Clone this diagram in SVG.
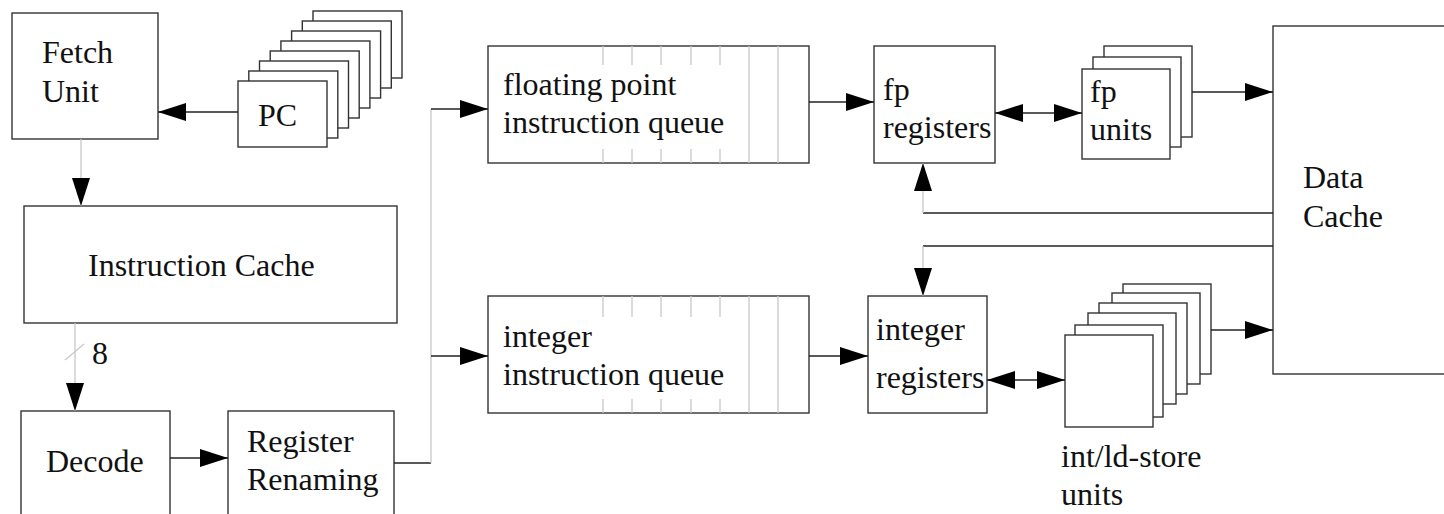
<svg xmlns="http://www.w3.org/2000/svg" width="1444" height="514" viewBox="0 0 1444 514">
<defs>
<marker id="ah" markerUnits="userSpaceOnUse" markerWidth="28" markerHeight="18" refX="28" refY="9" orient="auto-start-reverse" viewBox="0 0 28 18">
<path d="M0,0 L28,9 L0,18 Z" fill="#000"/>
</marker>
</defs>
<style>
.b{fill:#fff;stroke:#333;stroke-width:1.4}
.t{font-family:"Liberation Serif","Times New Roman",serif;font-size:32px;fill:#111}
.c{fill:none;stroke:#222;stroke-width:1.3}
.g{fill:none;stroke:#c8c8c8;stroke-width:1.3}
.a{marker-end:url(#ah)}
.d{marker-start:url(#ah);marker-end:url(#ah)}
</style>
<rect width="1444" height="514" fill="#fff"/>

<g id="fetch">
<rect class="b" x="12" y="13" width="146" height="126"/>
<text class="t" x="42" y="63">Fetch</text>
<text class="t" x="42" y="102">Unit</text>
</g>

<g id="pc">
<rect class="b" x="313" y="11" width="89" height="67"/>
<rect class="b" x="302.3" y="21" width="89" height="67"/>
<rect class="b" x="291.6" y="31" width="89" height="67"/>
<rect class="b" x="280.9" y="41" width="89" height="67"/>
<rect class="b" x="270.2" y="51" width="89" height="67"/>
<rect class="b" x="259.5" y="61" width="89" height="67"/>
<rect class="b" x="248.8" y="71" width="89" height="67"/>
<rect class="b" x="238" y="81" width="89" height="66"/>
<text class="t" x="258" y="126">PC</text>
</g>

<g id="icache">
<rect class="b" x="24" y="206" width="373" height="117"/>
<text class="t" x="88" y="276">Instruction Cache</text>
</g>

<g id="decode">
<rect class="b" x="21" y="411" width="149" height="120"/>
<text class="t" x="46" y="472">Decode</text>
</g>

<g id="rename">
<rect class="b" x="228" y="411" width="166" height="120"/>
<text class="t" x="247" y="452">Register</text>
<text class="t" x="247" y="490">Renaming</text>
</g>

<g id="fpqueue">
<rect class="b" x="488" y="46" width="321" height="117"/>
<g class="g">
<path d="M603,46V65M632,46V65M661,46V65M691,46V65M720,46V65M603,149V163M632,149V163M661,149V163M691,149V163M720,149V163M749,46V163M778,46V163"/>
</g>
<text class="t" x="503" y="95">floating point</text>
<text class="t" x="503" y="133">instruction queue</text>
</g>

<g id="intqueue">
<rect class="b" x="488" y="296" width="321" height="117"/>
<g class="g">
<path d="M603,296V317M632,296V317M661,296V317M691,296V317M720,296V317M603,399V413M632,399V413M661,399V413M691,399V413M720,399V413M749,296V413M778,296V413"/>
</g>
<text class="t" x="503" y="347">integer</text>
<text class="t" x="503" y="385">instruction queue</text>
</g>

<g id="fpregs">
<rect class="b" x="874" y="46" width="121" height="117"/>
<text class="t" x="883" y="100">fp</text>
<text class="t" x="883" y="138">registers</text>
</g>

<g id="fpunits">
<rect class="b" x="1104" y="46" width="88" height="91"/>
<rect class="b" x="1093" y="57" width="88" height="90"/>
<rect class="b" x="1082" y="69" width="88" height="90"/>
<text class="t" x="1090" y="102">fp</text>
<text class="t" x="1090" y="140">units</text>
</g>

<g id="intregs">
<rect class="b" x="868" y="296" width="119" height="117"/>
<text class="t" x="876" y="340">integer</text>
<text class="t" x="876" y="388">registers</text>
</g>

<g id="intunits">
<rect class="b" x="1123" y="284" width="88" height="90"/>
<rect class="b" x="1112" y="293" width="88" height="91"/>
<rect class="b" x="1099" y="303" width="88" height="91"/>
<rect class="b" x="1088" y="313" width="88" height="91"/>
<rect class="b" x="1075" y="325" width="88" height="92"/>
<rect class="b" x="1065" y="335" width="88" height="92"/>
<text class="t" x="1061" y="467">int/ld-store</text>
<text class="t" x="1061" y="505">units</text>
</g>

<g id="dcache">
<rect class="b" x="1273" y="26" width="190" height="348"/>
<text class="t" x="1303" y="188">Data</text>
<text class="t" x="1303" y="227">Cache</text>
</g>

<g id="connectors">
<line class="c a" x1="238" y1="112" x2="158" y2="112"/>
<line class="g a" x1="81" y1="139" x2="81" y2="206"/>
<line class="g a" x1="75" y1="323" x2="75" y2="411"/>
<line class="g" x1="65" y1="360" x2="84" y2="344"/>
<text class="t" x="92" y="364">8</text>
<line class="c a" x1="170" y1="458" x2="228" y2="458"/>
<line class="c" x1="394" y1="463" x2="431" y2="463"/>
<line class="g" x1="431" y1="463" x2="431" y2="109"/>
<line class="c a" x1="431" y1="109" x2="488" y2="109"/>
<line class="c a" x1="431" y1="356" x2="488" y2="356"/>
<line class="c a" x1="809" y1="102" x2="874" y2="102"/>
<line class="c a" x1="809" y1="356" x2="868" y2="356"/>
<line class="c d" x1="995" y1="113" x2="1082" y2="113"/>
<line class="c a" x1="1192" y1="92" x2="1273" y2="92"/>
<line class="c" x1="1273" y1="213" x2="923" y2="213"/>
<line class="g a" x1="923" y1="213" x2="923" y2="163"/>
<line class="c" x1="1273" y1="246" x2="923" y2="246"/>
<line class="g a" x1="923" y1="246" x2="923" y2="296"/>
<line class="c d" x1="987" y1="380" x2="1065" y2="380"/>
<line class="c a" x1="1211" y1="330" x2="1273" y2="330"/>
</g>
</svg>
